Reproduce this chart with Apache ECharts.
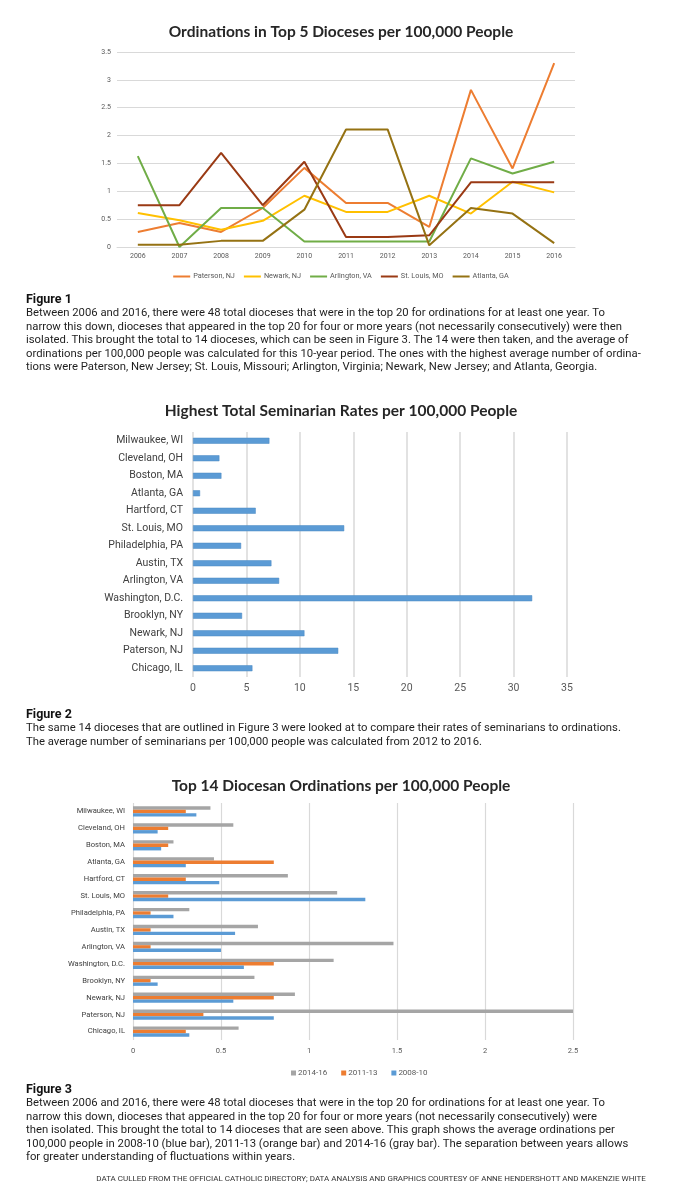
<!DOCTYPE html>
<html><head><meta charset="utf-8">
<script src="https://cdn.jsdelivr.net/npm/echarts@6/dist/echarts.min.js"></script>
<style>
html,body{margin:0;padding:0;background:#fff;}
#chart{position:absolute;left:0;top:0;width:682px;height:1197px;}
.cap{position:absolute;left:26px;font-family:Roboto, "Noto Sans", sans-serif;font-size:11.3px;line-height:13.4px;color:#1e1e1e;white-space:nowrap;}
.cap .h{font-weight:700;font-size:12.5px;color:#111;}
.src{position:absolute;left:0;width:742px;text-align:center;font-family:Roboto, sans-serif;font-size:8px;color:#333;white-space:nowrap;}
</style></head><body>
<div id="chart"></div>
<div class="cap" id="cap1" style="top:292px"><span class="h">Figure 1</span><br>Between 2006 and 2016, there were 48 total dioceses that were in the top 20 for ordinations for at least one year. To<br>narrow this down, dioceses that appeared in the top 20 for four or more years (not necessarily consecutively) were then<br>isolated. This brought the total to 14 dioceses, which can be seen in Figure 3. The 14 were then taken, and the average of<br>ordinations per 100,000 people was calculated for this 10-year period. The ones with the highest average number of ordina-<br>tions were Paterson, New Jersey; St. Louis, Missouri; Arlington, Virginia; Newark, New Jersey; and Atlanta, Georgia.</div>
<div class="cap" id="cap2" style="top:707px"><span class="h">Figure 2</span><br>The same 14 dioceses that are outlined in Figure 3 were looked at to compare their rates of seminarians to ordinations.<br>The average number of seminarians per 100,000 people was calculated from 2012 to 2016.</div>
<div class="cap" id="cap3" style="top:1082px"><span class="h">Figure 3</span><br>Between 2006 and 2016, there were 48 total dioceses that were in the top 20 for ordinations for at least one year. To<br>narrow this down, dioceses that appeared in the top 20 for four or more years (not necessarily consecutively) were<br>then isolated. This brought the total to 14 dioceses that are seen above. This graph shows the average ordinations per<br>100,000 people in 2008-10 (blue bar), 2011-13 (orange bar) and 2014-16 (gray bar). The separation between years allows<br>for greater understanding of fluctuations within years.</div>
<div class="src" style="top:1174px">DATA CULLED FROM THE OFFICIAL CATHOLIC DIRECTORY; DATA ANALYSIS AND GRAPHICS COURTESY OF ANNE HENDERSHOTT AND MAKENZIE WHITE</div>
<script>
// ---- Figure 1 data ----
const years = ['2006','2007','2008','2009','2010','2011','2012','2013','2014','2015','2016'];
const paterson  = [0.27,0.43,0.27,0.70,1.42,0.79,0.79,0.36,2.82,1.41,3.30];
const newark    = [0.61,0.48,0.31,0.47,0.92,0.63,0.63,0.92,0.60,1.17,0.98];
const arlington = [1.63,0.00,0.70,0.70,0.10,0.10,0.10,0.10,1.59,1.32,1.53];
const stLouis   = [0.75,0.75,1.69,0.75,1.53,0.18,0.18,0.21,1.16,1.16,1.16];
const atlanta   = [0.04,0.04,0.11,0.11,0.67,2.11,2.11,0.03,0.70,0.60,0.07];
const fig1Names = ['Paterson, NJ','Newark, NJ','Arlington, VA','St. Louis, MO','Atlanta, GA'];

// ---- Figure 2 / 3 data (top to bottom) ----
const dioceses = ['Milwaukee, WI','Cleveland, OH','Boston, MA','Atlanta, GA','Hartford, CT','St. Louis, MO','Philadelphia, PA','Austin, TX','Arlington, VA','Washington, D.C.','Brooklyn, NY','Newark, NJ','Paterson, NJ','Chicago, IL'];
const seminarians = [7.15,2.47,2.66,0.66,5.87,14.15,4.50,7.34,8.06,31.74,4.59,10.43,13.59,5.56];
const ord1416 = [0.44,0.57,0.23,0.46,0.88,1.16,0.32,0.71,1.48,1.14,0.69,0.92,2.50,0.60];
const ord1113 = [0.30,0.20,0.20,0.80,0.30,0.20,0.10,0.10,0.10,0.80,0.10,0.80,0.40,0.30];
const ord0810 = [0.36,0.14,0.16,0.30,0.49,1.32,0.23,0.58,0.50,0.63,0.14,0.57,0.80,0.32];
const periodNames = ['2014-16','2011-13','2008-10'];

const titles = ['Ordinations in Top 5 Dioceses per 100,000 People','Highest Total Seminarian Rates per 100,000 People','Top 14 Diocesan Ordinations per 100,000 People'];

const grey = '#d9d9d9', lab = '#595959';
const lineColors = ['#ED7D31','#FFC000','#70AD47','#9A3A14','#957213'];
const fig1Data = [paterson, newark, arlington, stLouis, atlanta];

const chart = echarts.init(document.getElementById('chart'), null, {renderer:'canvas'});
const titleStyle = {fontFamily:'Lato', fontWeight:'bold', fontSize:15.5, color:'#262626'};

const option = {
  animation:false,
  title:[
    {text:titles[0], left:'center', top:19, textStyle:titleStyle},
    {text:titles[1], left:'center', top:398, textStyle:titleStyle},
    {text:titles[2], left:'center', top:773, textStyle:titleStyle}
  ],
  legend:[
    {data:fig1Names, left:'center', top:268, icon:'rect', itemWidth:17, itemHeight:2, itemGap:9,
     textStyle:{fontFamily:'Roboto', fontSize:7.3, color:lab, padding:[0,0,0,-2]}},
    {data:periodNames, left:286, top:1064, icon:'rect', itemWidth:5, itemHeight:5, itemGap:14,
     textStyle:{fontFamily:'Roboto', fontSize:8, color:lab, padding:[0,0,0,-3]}}
  ],
  grid:[
    {left:117, top:52, width:458, height:195},
    {left:193, top:432, width:374, height:245},
    {left:133, top:803, width:440, height:237}
  ],
  xAxis:[
    {gridIndex:0, type:'category', data:years, boundaryGap:true,
     axisLine:{show:true, lineStyle:{color:grey}}, axisTick:{show:false},
     axisLabel:{fontFamily:'Roboto', fontSize:7, color:lab, margin:6}},
    {gridIndex:1, type:'value', min:0, max:35, interval:5,
     axisLine:{show:false}, axisTick:{show:false},
     splitLine:{show:true, lineStyle:{color:grey, width:1.5}},
     axisLabel:{fontFamily:'Roboto', fontSize:10.5, color:lab, margin:6}},
    {gridIndex:2, type:'value', min:0, max:2.5, interval:0.5,
     axisLine:{show:false}, axisTick:{show:false},
     splitLine:{show:true, lineStyle:{color:grey, width:1.2}},
     axisLabel:{fontFamily:'Roboto', fontSize:7.5, color:lab, margin:7}}
  ],
  yAxis:[
    {gridIndex:0, type:'value', min:0, max:3.5, interval:0.5,
     axisLine:{show:false}, axisTick:{show:false},
     splitLine:{show:true, lineStyle:{color:grey, width:1}},
     axisLabel:{fontFamily:'Roboto', fontSize:7, color:lab, margin:6}},
    {gridIndex:1, type:'category', data:dioceses, inverse:true,
     axisLine:{show:false}, axisTick:{show:false},
     axisLabel:{fontFamily:'Roboto', fontSize:10.5, color:'#404040', margin:10}},
    {gridIndex:2, type:'category', data:dioceses, inverse:true,
     axisLine:{show:false}, axisTick:{show:false},
     axisLabel:{fontFamily:'Roboto', fontSize:7.6, color:'#404040', margin:8}}
  ],
  series:[
    ...fig1Names.map((n,i)=>({name:n, type:'line', xAxisIndex:0, yAxisIndex:0, data:fig1Data[i],
      showSymbol:false, symbol:'none', lineStyle:{width:2, color:lineColors[i]}, itemStyle:{color:lineColors[i]}})),
    {name:'Seminarians', type:'bar', xAxisIndex:1, yAxisIndex:1, data:seminarians, barWidth:6,
     itemStyle:{color:'#5B9BD5', borderColor:'#4A88C2', borderWidth:0.5}},
    {name:periodNames[0], type:'bar', xAxisIndex:2, yAxisIndex:2, data:ord1416, barWidth:3.4, barGap:'0%', itemStyle:{color:'#A5A5A5'}},
    {name:periodNames[1], type:'bar', xAxisIndex:2, yAxisIndex:2, data:ord1113, barWidth:3.4, barGap:'0%', itemStyle:{color:'#ED7D31'}},
    {name:periodNames[2], type:'bar', xAxisIndex:2, yAxisIndex:2, data:ord0810, barWidth:3.4, barGap:'0%', itemStyle:{color:'#5B9BD5'}}
  ]
};
chart.setOption(option);
</script>
</body></html>
